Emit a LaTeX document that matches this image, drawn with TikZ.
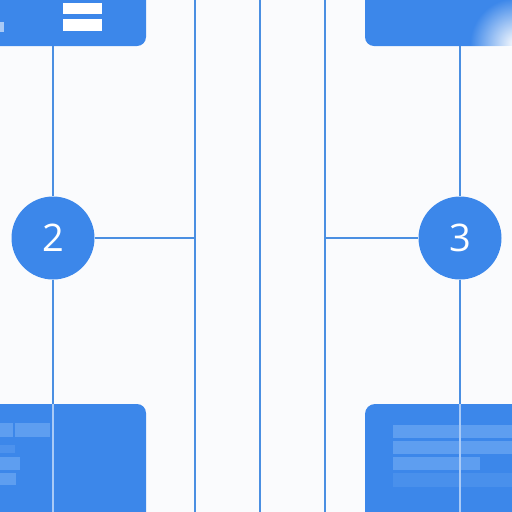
\documentclass[tikz,border=0pt]{standalone}
\usepackage{fontspec}
\setmainfont{Open Sans}
\usetikzlibrary{fadings}
\tikzfading[name=softspot, inner color=transparent!0, outer color=transparent!100]
\definecolor{bg}{HTML}{FAFBFD}
\definecolor{boxblue}{HTML}{3C87EA}
\definecolor{stripe}{HTML}{5E9EF0}
\definecolor{linec}{HTML}{4A8FE2}
\definecolor{inbox}{HTML}{A9CAF6}
\tikzset{
  conn/.style={draw=linec, line width=2pt},
  inconn/.style={draw=inbox, line width=1.6pt},
  panel/.style={fill=boxblue},
  stripebar/.style={fill=stripe},
  numcircle/.style={circle, fill=boxblue, minimum size=83pt, inner sep=0pt,
    text=white, font=\fontsize{38}{40}\selectfont},
}
\begin{document}
\begin{tikzpicture}[x=1pt,y=-1pt]
\fill[bg] (0,0) rectangle (512,512);
\useasboundingbox (0,0) rectangle (512,512);
% top-left panel
\fill[panel, rounded corners=9pt] (-20,-20) rectangle (146,46);
\fill[white] (63,3) rectangle (102,14);
\fill[white] (63,19) rectangle (102,31);
\fill[inbox] (0,22) rectangle (4,32);
% top-right panel
\fill[panel, rounded corners=9pt] (365,-20) rectangle (532,46);
\begin{scope}
\clip (365,-20) rectangle (532,46);
\fill[white, path fading=softspot] (516,44) circle (46);
\end{scope}
% bottom-left panel
\fill[panel, rounded corners=9pt] (-20,404) rectangle (146,532);
\fill[stripebar] (0,423) rectangle (13,437);
\fill[stripebar] (15,423) rectangle (50,437);
\fill[stripebar, opacity=0.5] (0,445) rectangle (15,453);
\fill[stripebar] (0,457) rectangle (20,470);
\fill[stripebar] (0,473) rectangle (16,485);
% bottom-right panel
\fill[panel, rounded corners=10pt] (365,404) rectangle (532,532);
\fill[stripebar] (393,425) rectangle (512,438);
\fill[stripebar] (393,441) rectangle (512,454);
\fill[stripebar] (393,457) rectangle (480,470);
\fill[stripebar, opacity=0.4] (393,473) rectangle (512,487);
% coordinates
\coordinate (tl) at (53,46);
\coordinate (bl) at (53,404);
\coordinate (blend) at (53,512);
\coordinate (tr) at (460,46);
\coordinate (br) at (460,404);
\coordinate (brend) at (460,512);
\coordinate (v1t) at (195,0);
\coordinate (v1b) at (195,512);
\coordinate (v2t) at (260,0);
\coordinate (v2b) at (260,512);
\coordinate (v3t) at (325,0);
\coordinate (v3b) at (325,512);
\coordinate (h1) at (195,238);
\coordinate (h2) at (325,238);
% circles
\node[numcircle] (c2) at (53,238) {2};
\node[numcircle] (c3) at (460,238) {3};
% connectors
\draw[conn] (v1t) -- (v1b);
\draw[conn] (v2t) -- (v2b);
\draw[conn] (v3t) -- (v3b);
\draw[conn] (tl) -- (c2.north);
\draw[conn] (c2.south) -- (bl);
\draw[inconn] (bl) -- (blend);
\draw[conn] (tr) -- (c3.north);
\draw[conn] (c3.south) -- (br);
\draw[inconn] (br) -- (brend);
\draw[conn] (c2.east) -- (h1);
\draw[conn] (h2) -- (c3.west);
\end{tikzpicture}
\end{document}
